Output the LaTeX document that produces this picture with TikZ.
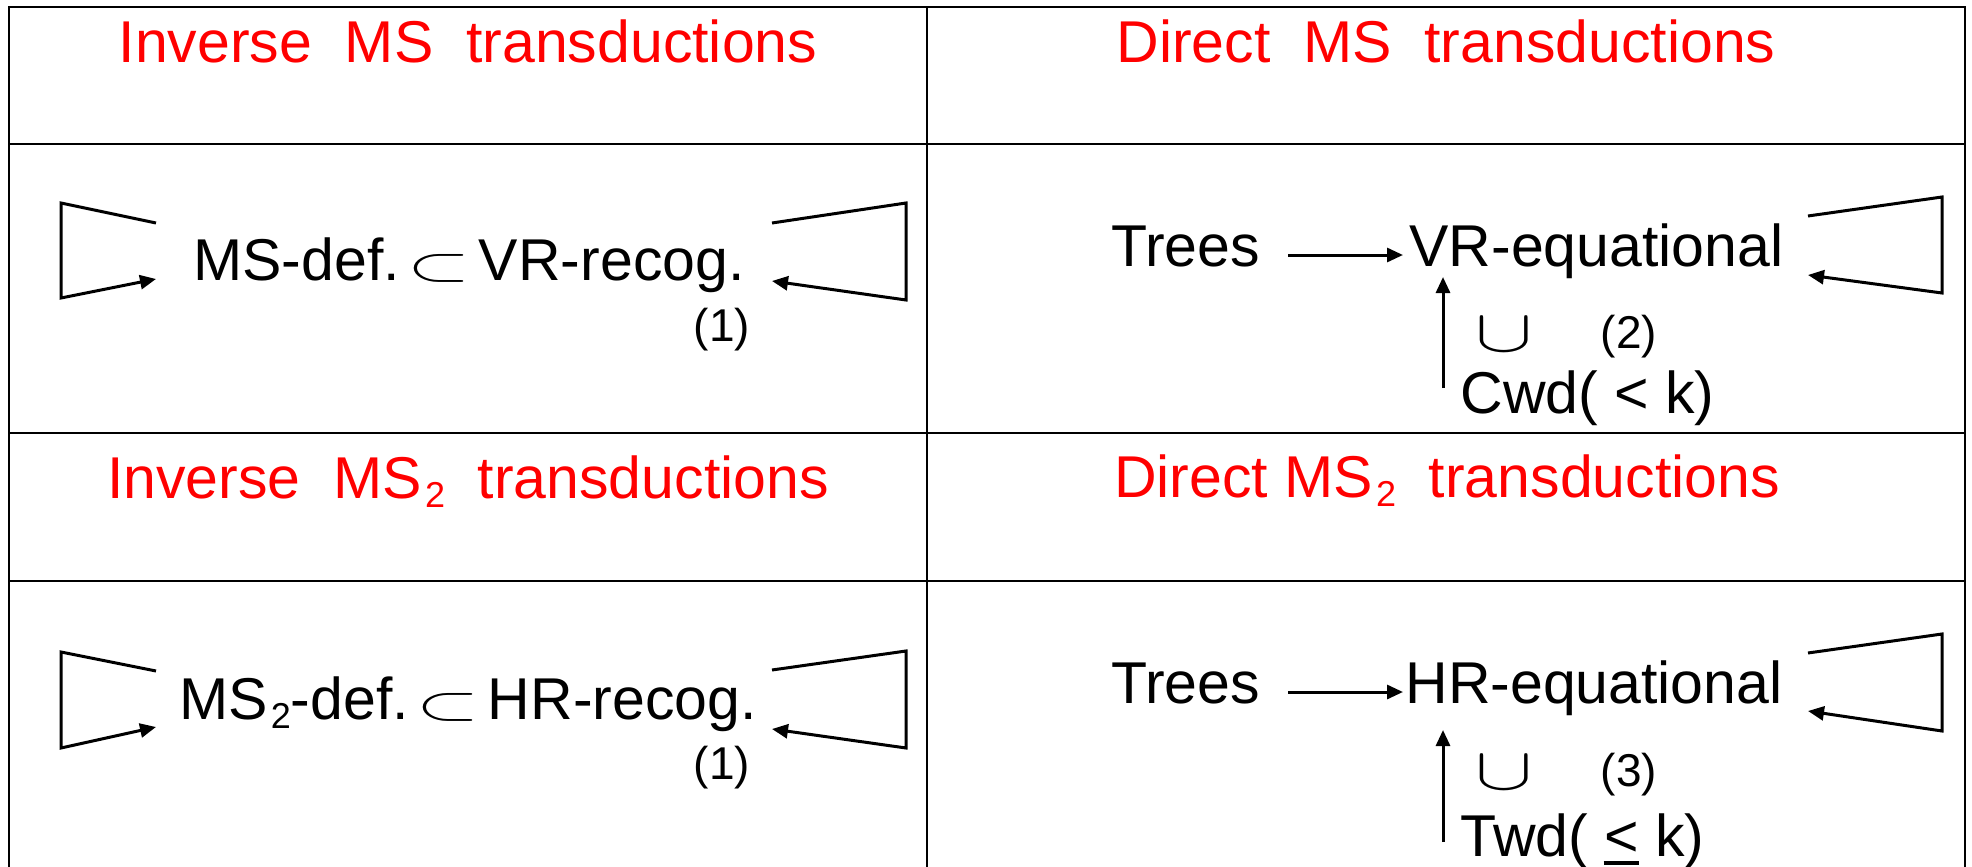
\documentclass[tikz,border=0pt]{standalone}
\usepackage{fontspec}
\usepackage{graphicx}
\setmainfont{Liberation Sans}
\usetikzlibrary{arrows.meta}
\newcommand{\sbs}{\scalebox{4.05}[2.41]{\fontsize{10pt}{12pt}\selectfont$\subset$}}
\newcommand{\cupsym}{\scalebox{4.3}[3.0]{\fontsize{10pt}{12pt}\selectfont$\cup$}}
\newcommand{\lowtwo}{\hspace{1.5pt}\raisebox{-4.75pt}{\fontsize{18pt}{18pt}\selectfont 2}}
\newcommand{\uless}{\rlap{\hspace{-0.5pt}\rule[-4.5pt]{17.5pt}{2pt}}<}
\begin{document}
\begin{tikzpicture}[x=0.5pt,y=-0.5pt,
  grid/.style={line width=1.25pt},
  title/.style={text=red, font=\fontsize{29.5pt}{31pt}\selectfont, inner sep=0pt, anchor=base},
  lbl/.style={font=\fontsize{29.5pt}{30pt}\selectfont, inner sep=0pt, anchor=base west},
  num/.style={font=\fontsize{23pt}{24pt}\selectfont, inner sep=0pt, anchor=base},
  arr/.style={line width=1.5pt, -{Triangle[length=8pt,width=7pt]}},
  loopline/.style={line width=1.6pt, line join=miter}]
\useasboundingbox (0,0) rectangle (1972,867);
% table
\draw[grid] (9,867) -- (9,7) -- (1965,7) -- (1965,867);
\draw[grid] (927,7) -- (927,867);
\draw[grid] (9,144) -- (1965,144);
\draw[grid] (9,433) -- (1965,433);
\draw[grid] (9,581) -- (1965,581);
% titles
\node[title] (t1) at (468,62) {Inverse\ \ MS\ \ transductions};
\node[title] (t2) at (1446,62) {Direct\ \ MS\ \ transductions};
\node[title] (t3) at (468,498) {Inverse\ \ MS\lowtwo\ \ transductions};
\node[title] (t4) at (1447,497) {Direct MS\lowtwo\ \ transductions};
% row 2 left
\node[lbl] (msdef) at (193,280) {MS-def.\hspace{4pt}\sbs\hspace{4pt}VR-recog.};
\node[num] (n1a) at (722,341) {(1)};
\coordinate (l1s) at (156,223); \coordinate (l1b) at (61,203);
\coordinate (l1c) at (61,298);  \coordinate (l1e) at (156,279);
\draw[loopline,arr] (l1s) -- (l1b) -- (l1c) -- (l1e);
\coordinate (r1s) at (772,223); \coordinate (r1b) at (906,203);
\coordinate (r1c) at (906,300); \coordinate (r1e) at (772,281);
\draw[loopline,arr] (r1s) -- (r1b) -- (r1c) -- (r1e);
% row 4 left
\node[lbl] (ms2def) at (179,719) {MS\lowtwo-def.\hspace{4pt}\sbs\hspace{4pt}HR-recog.};
\node[num] (n1b) at (722,779) {(1)};
\coordinate (l2s) at (156,671); \coordinate (l2b) at (61,652);
\coordinate (l2c) at (61,748);  \coordinate (l2e) at (156,727);
\draw[loopline,arr] (l2s) -- (l2b) -- (l2c) -- (l2e);
\coordinate (r2s) at (772,670); \coordinate (r2b) at (906,651);
\coordinate (r2c) at (906,748); \coordinate (r2e) at (772,729);
\draw[loopline,arr] (r2s) -- (r2b) -- (r2c) -- (r2e);
% row 2 right
\node[lbl] (trees1) at (1111,266) {Trees};
\node[lbl] (vr) at (1409,266) {VR-equational};
\node[lbl] (cwd) at (1460,413) {Cwd( < k)};
\node (cup1) at (1504,335) {\cupsym};
\node[num] (n2) at (1629,348) {(2)};
\draw[arr] ([shift={(28,-11)}]trees1.base east) -- ([shift={(-6,-11)}]vr.base west);
\draw[arr] ([shift={(-17,-25)}]cwd.base west) -- ([shift={(34,11)}]vr.base west);
\coordinate (r3s) at (1808,216); \coordinate (r3b) at (1942,197);
\coordinate (r3c) at (1942,293); \coordinate (r3e) at (1808,275);
\draw[loopline,arr] (r3s) -- (r3b) -- (r3c) -- (r3e);
% row 4 right
\node[lbl] (trees2) at (1111,703) {Trees};
\node[lbl] (hr) at (1405,703) {HR-equational};
\node[lbl] (twd) at (1460,856) {Twd( \uless{} k)};
\node (cup2) at (1504,773) {\cupsym};
\node[num] (n3) at (1629,786) {(3)};
\draw[arr] ([shift={(28,-11)}]trees2.base east) -- ([shift={(-2,-11)}]hr.base west);
\draw[arr] ([shift={(-17,-14)}]twd.base west) -- ([shift={(38,27)}]hr.base west);
\coordinate (r4s) at (1808,653); \coordinate (r4b) at (1942,634);
\coordinate (r4c) at (1942,731); \coordinate (r4e) at (1808,711);
\draw[loopline,arr] (r4s) -- (r4b) -- (r4c) -- (r4e);
\end{tikzpicture}
\end{document}
